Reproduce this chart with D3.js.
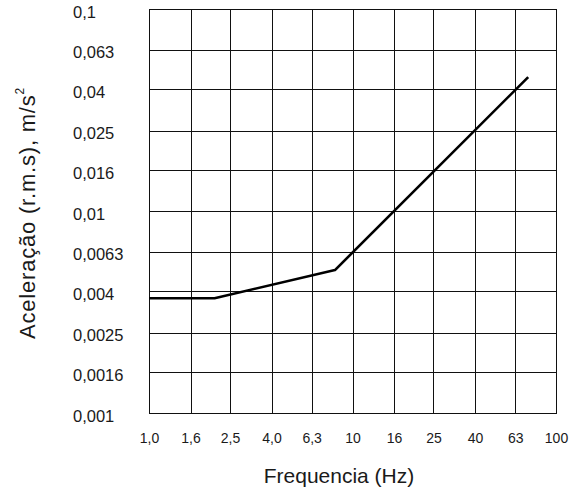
<!DOCTYPE html>
<html>
<head>
<meta charset="utf-8">
<script src="https://cdn.jsdelivr.net/npm/d3@7"></script>
<style>
  html, body { margin: 0; padding: 0; background: #fff; }
  svg { display: block; font-family: "Liberation Sans", Arial, sans-serif; }
</style>
</head>
<body>
<svg id="chart" width="577" height="493"></svg>
<script>
// Data
const xTicks = [1, 1.6, 2.5, 4, 6.3, 10, 16, 25, 40, 63, 100];
const xTickLabels = ["1,0", "1,6", "2,5", "4,0", "6,3", "10", "16", "25", "40", "63", "100"];
const yTicks = [0.001, 0.0016, 0.0025, 0.004, 0.0063, 0.01, 0.016, 0.025, 0.04, 0.063, 0.1];
const yTickLabels = ["0,001", "0,0016", "0,0025", "0,004", "0,0063", "0,01", "0,016", "0,025", "0,04", "0,063", "0,1"];
const frequency = [1, 2.1, 8.2, 73];
const acceleration = [0.0037, 0.0037, 0.0051, 0.046];
const xTitle = "Frequencia (Hz)";
const yTitle = "Aceleração (r.m.s), m/s";

const svg = d3.select("#chart");
const plotL = 149, plotR = 556, plotT = 9, plotB = 413;

const x = d3.scaleLog().domain([1, 100]).range([plotL, plotR]);
const y = d3.scaleLog().domain([0.001, 0.1]).range([plotB, plotT]);

// Grid
const grid = svg.append("g").attr("stroke", "#111").attr("stroke-width", 1).attr("shape-rendering", "crispEdges");
grid.selectAll("line.v").data(xTicks).join("line")
  .attr("class", "v")
  .attr("x1", d => Math.round(x(d)) + 0.5).attr("x2", d => Math.round(x(d)) + 0.5)
  .attr("y1", plotT).attr("y2", plotB + 1);
grid.selectAll("line.h").data(yTicks).join("line")
  .attr("class", "h")
  .attr("y1", d => Math.round(y(d)) + 0.5).attr("y2", d => Math.round(y(d)) + 0.5)
  .attr("x1", plotL).attr("x2", plotR + 1);

// X axis labels
const xAxis = d3.axisBottom(x).tickValues(xTicks).tickSize(0).tickPadding(0)
  .tickFormat((d, i) => xTickLabels[i]);
const gx = svg.append("g").attr("transform", `translate(0, ${plotB + 20})`).call(xAxis);
gx.select(".domain").remove();
gx.selectAll("text").attr("font-size", 14).attr("fill", "#1a1a1a")
  .attr("font-family", "'Liberation Sans', Arial, sans-serif").attr("dy", "0.71em");

// Y axis labels (left aligned)
const yAxis = d3.axisLeft(y).tickValues(yTicks).tickSize(0).tickPadding(0)
  .tickFormat((d, i) => yTickLabels[i]);
const gy = svg.append("g").attr("transform", "translate(73, 3)").call(yAxis);
gy.select(".domain").remove();
gy.selectAll("text").attr("font-size", 16.5).attr("fill", "#1a1a1a")
  .attr("font-family", "'Liberation Sans', Arial, sans-serif")
  .attr("text-anchor", "start").attr("x", 0);

// Data line
const pts = frequency.map((f, i) => [f, acceleration[i]]);
svg.append("path")
  .datum(pts)
  .attr("fill", "none")
  .attr("stroke", "#000")
  .attr("stroke-width", 2.6)
  .attr("stroke-linejoin", "round")
  .attr("d", d3.line().x(d => x(d[0])).y(d => y(d[1])));

// Titles
svg.append("text")
  .attr("x", 339).attr("y", 483)
  .attr("text-anchor", "middle")
  .attr("font-size", 21)
  .attr("fill", "#1a1a1a")
  .text(xTitle);

const yt = svg.append("text")
  .attr("text-anchor", "middle")
  .attr("font-size", 22)
  .attr("letter-spacing", 0.8)
  .attr("fill", "#1a1a1a")
  .attr("transform", "translate(35, 213) rotate(-90)");
yt.append("tspan").text(yTitle);
yt.append("tspan").attr("font-size", 12).attr("dy", "-0.9em").text("2");
</script>
</body>
</html>
